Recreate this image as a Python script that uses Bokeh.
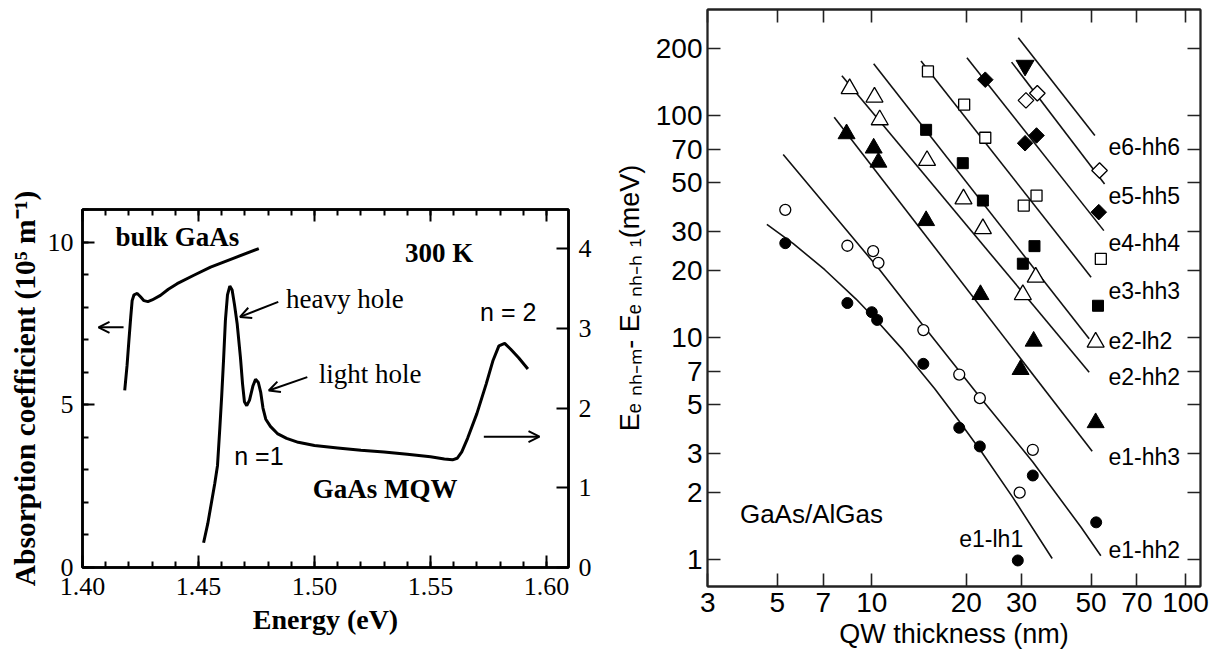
from bokeh.plotting import figure
from bokeh.models import (Range1d, LinearAxis, LogAxis, FixedTicker, SingleIntervalTicker,
                          PrintfTickFormatter, NumeralTickFormatter, Label, Arrow, OpenHead)
from bokeh.layouts import row, column
from bokeh.embed import file_html
from bokeh.resources import INLINE

SERIF = "Liberation Serif"
SANS = "Liberation Sans"

# ---------------- Left panel data ----------------
bulk_energy = [1.4182, 1.4192, 1.4200, 1.4208, 1.4214, 1.4222, 1.4236, 1.4250, 1.4265, 1.4282,
               1.4300, 1.4336, 1.4370, 1.4408, 1.4480, 1.4552, 1.4650, 1.4760]
bulk_alpha = [5.44, 6.20, 6.97, 7.70, 8.20, 8.38, 8.42, 8.32, 8.20, 8.17,
              8.22, 8.36, 8.55, 8.72, 8.98, 9.23, 9.50, 9.80]

mqw_energy = [1.4522, 1.4540, 1.4555, 1.4570, 1.4582, 1.4592, 1.4600, 1.4608, 1.4616, 1.4625,
              1.4635, 1.4645, 1.4655, 1.4667, 1.4681, 1.4690, 1.4698, 1.4708, 1.4720, 1.4735,
              1.4746, 1.4758, 1.4768, 1.4778, 1.4790, 1.4810, 1.4840, 1.4880, 1.4930, 1.5000,
              1.5100, 1.5200, 1.5300, 1.5400, 1.5500, 1.5560, 1.5595, 1.5615, 1.5635, 1.5660,
              1.5700, 1.5740, 1.5770, 1.5795, 1.5820, 1.5845, 1.5880, 1.5920]
mqw_alpha = [0.31, 0.55, 0.80, 1.05, 1.28, 1.75, 2.15, 2.60, 3.10, 3.42,
             3.53, 3.48, 3.30, 3.05, 2.63, 2.30, 2.08, 2.03, 2.10, 2.28,
             2.36, 2.32, 2.20, 2.00, 1.86, 1.77, 1.68, 1.62, 1.57, 1.53,
             1.50, 1.47, 1.45, 1.42, 1.39, 1.36, 1.35, 1.37, 1.45, 1.62,
             1.93, 2.30, 2.60, 2.78, 2.81, 2.74, 2.63, 2.49]

# ---------------- Right panel data ----------------
fc_x = [5.30, 8.36, 10.0, 10.4, 14.6, 19.0, 22.1, 29.2, 32.6, 51.9]
fc_y = [26.6, 14.3, 13.0, 12.0, 7.61, 3.92, 3.23, 0.99, 2.39, 1.47]
oc_x = [5.30, 8.36, 10.1, 10.5, 14.6, 19.0, 22.1, 29.6, 32.6]
oc_y = [37.6, 25.9, 24.5, 21.7, 10.8, 6.81, 5.33, 2.00, 3.12]
ft_x = [8.31, 10.14, 10.5, 14.9, 22.2, 29.8, 32.8, 51.7]
ft_y = [82.7, 71.3, 61.6, 33.6, 15.6, 7.17, 9.62, 4.13]
ot_x = [8.5, 10.2, 10.6, 15.0, 19.6, 22.6, 30.3, 33.3, 51.7]
ot_y = [132, 121, 95.6, 62.7, 42.1, 30.9, 15.6, 18.7, 9.52]
fs_x = [14.9, 19.5, 22.6, 30.3, 33.0, 52.6]
fs_y = [86.2, 61.0, 41.4, 21.5, 25.8, 13.9]
os_x = [15.1, 19.7, 23.0, 30.5, 33.5, 53.7]
os_y = [158, 112, 79.4, 39.3, 43.6, 22.6]
fd_x = [23.0, 30.8, 33.5, 52.9]
fd_y = [145, 75.0, 81.3, 36.7]
od_x = [31.0, 33.7, 53.2]
od_y = [117, 126, 56.5]
fi_x = [30.8]
fi_y = [168]

# fitted curves (thickness nm, energy meV)
curve_e1lh1_x = [4.63, 5.62, 7.08, 8.91, 10.38, 12.59, 15.85, 18.97, 22.39, 28.18, 37.58]
curve_e1lh1_y = [32.3, 26.5, 20.2, 14.9, 11.9, 8.77, 5.89, 4.21, 3.05, 1.90, 1.01]
curve_e1hh2_x = [5.22, 10.5, 14.6, 22.1, 32.6, 46.4, 53.7]
curve_e1hh2_y = [66.7, 20.5, 11.3, 5.4, 2.75, 1.40, 1.04]
curve_e1hh3_x = [7.59, 50.4]
curve_e1hh3_y = [98.3, 3.07]
curve_e2hh2_x = [8.03, 49.3]
curve_e2hh2_y = [151, 6.98]
curve_e2lh2_x = [10.14, 49.3]
curve_e2lh2_y = [171, 9.86]
curve_e3hh3_x = [14.35, 50.0]
curve_e3hh3_y = [176, 18.7]
curve_e4hh4_x = [20.1, 54.9]
curve_e4hh4_y = [182, 30.3]
curve_e5hh5_x = [27.9, 55.2]
curve_e5hh5_y = [174, 49.2]
curve_e6hh6_x = [29.3, 51.4]
curve_e6hh6_y = [224, 81.3]

x_ticks_r = [3, 5, 7, 10, 20, 30, 50, 70, 100]
y_ticks_r = [1, 2, 3, 5, 7, 10, 20, 30, 50, 70, 100, 200]

trans_labels = ["e6-hh6", "e5-hh5", "e4-hh4", "e3-hh3", "e2-lh2", "e2-hh2", "e1-hh3", "e1-hh2"]
trans_label_y = [72.0, 43.6, 26.6, 16.2, 9.62, 6.63, 2.89, 1.098]
trans_label_x = 56.8

# ================= Left figure =================
X1 = Range1d(1.40, 1.6095)
Y1 = Range1d(0, 11.0)
p1 = figure(frame_width=486, frame_height=358, x_range=X1, y_range=Y1,
            output_backend="svg", toolbar_location=None,
            min_border_left=82, min_border_right=32, min_border_top=209, min_border_bottom=80)
p1.extra_y_ranges = {"mqw": Range1d(0, 4.49)}
p1.grid.visible = False
p1.outline_line_color = "black"
p1.outline_line_width = 2.5
p1.background_fill_color = "white"
p1.border_fill_color = "white"

xtick = SingleIntervalTicker(interval=0.05, num_minor_ticks=5)


def style_serif_axis(ax):
    ax.major_tick_out = 0
    ax.minor_tick_out = 0
    ax.major_tick_in = 12
    ax.minor_tick_in = 6
    ax.major_tick_line_width = 2
    ax.minor_tick_line_width = 2
    ax.axis_line_width = 2.5
    ax.axis_line_color = "black"
    ax.major_tick_line_color = "black"
    ax.minor_tick_line_color = "black"
    ax.major_label_text_font = SERIF
    ax.major_label_text_font_size = "26px"
    ax.major_label_text_color = "black"
    ax.axis_label_text_font = SERIF
    ax.axis_label_text_font_style = "bold"
    ax.axis_label_text_font_size = "29.5px"
    ax.axis_label_text_color = "black"


def hide_labels(ax):
    ax.major_label_text_color = None
    ax.major_label_text_font_size = "1px"
    ax.major_label_standoff = 0


bx = p1.xaxis[0]
bx.ticker = xtick
bx.formatter = PrintfTickFormatter(format="%.2f")
style_serif_axis(bx)
bx.major_label_standoff = 10
bx.axis_label = "Energy (eV)"
bx.axis_label_standoff = 6
bx.axis_label_text_font_size = "28px"

ly = p1.yaxis[0]
ly.ticker = SingleIntervalTicker(interval=5, num_minor_ticks=5)
style_serif_axis(ly)
ly.major_label_standoff = 9
ly.axis_label = "Absorption coefficient (10\u2075 m\u207b\u00b9)"
ly.axis_label_standoff = 4

top1 = LinearAxis(ticker=xtick)
style_serif_axis(top1)
hide_labels(top1)
p1.add_layout(top1, "above")

ry = LinearAxis(y_range_name="mqw", ticker=SingleIntervalTicker(interval=1, num_minor_ticks=0))
style_serif_axis(ry)
ry.minor_tick_in = 0
ry.major_label_standoff = 10
p1.add_layout(ry, "right")

p1.line(bulk_energy, bulk_alpha, line_color="black", line_width=3)
p1.line(mqw_energy, mqw_alpha, y_range_name="mqw", line_color="black", line_width=3)

label_specs = [
    ("bulk GaAs", 1.4142, 10.15, SERIF, "bold"),
    ("300 K", 1.5390, 9.65, SERIF, "bold"),
    ("heavy hole", 1.4877, 8.26, SERIF, "normal"),
    ("light hole", 1.5018, 5.95, SERIF, "normal"),
    ("n = 2", 1.5714, 7.85, SANS, "normal"),
    ("n =1", 1.4654, 3.44, SANS, "normal"),
    ("GaAs MQW", 1.4993, 2.41, SERIF, "bold"),
]
for txt, lx, lyv, fnt, sty in label_specs:
    p1.add_layout(Label(x=lx, y=lyv, text=txt, text_font=fnt, text_font_style=sty,
                        text_font_size="27px" if fnt == SERIF else "25px",
                        text_baseline="middle", text_align="left", text_color="black"))

arrow_specs = [
    (1.4844, 8.16, 1.4679, 7.70),
    (1.4969, 5.85, 1.4803, 5.44),
    (1.4177, 7.38, 1.4069, 7.38),
    (1.5730, 4.02, 1.5970, 4.02),
]
for xs, ys, xe, ye in arrow_specs:
    p1.add_layout(Arrow(end=OpenHead(size=11, line_width=2, line_color="black"),
                        x_start=xs, y_start=ys, x_end=xe, y_end=ye,
                        line_width=2, line_color="black"))

# ================= Right figure =================
X2 = Range1d(2.995, 111.6)
Y2 = Range1d(0.7557, 300.3)
p2 = figure(frame_width=493, frame_height=577,
            x_axis_type="log", y_axis_type="log", x_range=X2, y_range=Y2,
            output_backend="svg", toolbar_location=None,
            min_border_left=107, min_border_right=20, min_border_top=9, min_border_bottom=64)
p2.grid.visible = False
p2.outline_line_color = "#222222"
p2.outline_line_width = 1.8
p2.background_fill_color = "white"
p2.border_fill_color = "white"

xt2 = FixedTicker(ticks=x_ticks_r, minor_ticks=[])
yt2 = FixedTicker(ticks=y_ticks_r, minor_ticks=[])


def style_sans_axis(ax):
    ax.major_tick_out = 0
    ax.minor_tick_out = 0
    ax.major_tick_in = 13
    ax.minor_tick_in = 0
    ax.major_tick_line_width = 1.6
    ax.major_tick_line_color = "#222222"
    ax.axis_line_width = 1.8
    ax.axis_line_color = "#222222"
    ax.major_label_text_font = SANS
    ax.major_label_text_font_size = "28px"
    ax.major_label_text_color = "black"
    ax.axis_label_text_font = SANS
    ax.axis_label_text_font_style = "normal"
    ax.axis_label_text_font_size = "27px"
    ax.axis_label_text_color = "black"


bx2 = p2.xaxis[0]
bx2.ticker = xt2
bx2.formatter = NumeralTickFormatter(format="0")
style_sans_axis(bx2)
bx2.major_label_standoff = 6
bx2.axis_label = "QW thickness (nm)"
bx2.axis_label_standoff = 4

ly2 = p2.yaxis[0]
ly2.ticker = yt2
ly2.formatter = NumeralTickFormatter(format="0")
style_sans_axis(ly2)
ly2.major_label_standoff = 5
ly2.axis_label = "E\u2091 \u2099\u2095\u208b\u2098- E\u2091 \u2099\u2095\u208b\u2095 \u2081(meV)"
ly2.axis_label_standoff = 8

top2 = LogAxis(ticker=xt2)
style_sans_axis(top2)
hide_labels(top2)
p2.add_layout(top2, "above")

right2 = LogAxis(ticker=yt2)
style_sans_axis(right2)
hide_labels(right2)
p2.add_layout(right2, "right")

curves = [
    (curve_e1lh1_x, curve_e1lh1_y), (curve_e1hh2_x, curve_e1hh2_y), (curve_e1hh3_x, curve_e1hh3_y),
    (curve_e2hh2_x, curve_e2hh2_y), (curve_e2lh2_x, curve_e2lh2_y), (curve_e3hh3_x, curve_e3hh3_y),
    (curve_e4hh4_x, curve_e4hh4_y), (curve_e5hh5_x, curve_e5hh5_y), (curve_e6hh6_x, curve_e6hh6_y),
]
for cx, cy in curves:
    p2.line(cx, cy, line_color="#111111", line_width=1.6)

p2.scatter(fc_x, fc_y, marker="circle", size=11, fill_color="black", line_color="black")
p2.scatter(oc_x, oc_y, marker="circle", size=11, fill_color="white", line_color="black", line_width=1.3)
p2.scatter(ft_x, ft_y, marker="triangle", size=17, fill_color="black", line_color="black")
p2.scatter(ot_x, ot_y, marker="triangle", size=17, fill_color="white", line_color="black", line_width=1.3)
p2.scatter(fs_x, fs_y, marker="square", size=11, fill_color="black", line_color="black")
p2.scatter(os_x, os_y, marker="square", size=11, fill_color="white", line_color="black", line_width=1.3)
p2.scatter(fd_x, fd_y, marker="square", angle=0.7854, size=11, fill_color="black", line_color="black")
p2.scatter(od_x, od_y, marker="square", angle=0.7854, size=11, fill_color="white", line_color="black", line_width=1.3)
p2.scatter(fi_x, fi_y, marker="inverted_triangle", size=18, fill_color="black", line_color="black")

for txt, yv in zip(trans_labels, trans_label_y):
    p2.add_layout(Label(x=trans_label_x, y=yv, text=txt, text_font=SANS, text_font_size="23px",
                        text_baseline="middle", text_align="left", text_color="black"))
p2.add_layout(Label(x=19.0, y=1.24, text="e1-lh1", text_font=SANS, text_font_size="23px",
                    text_baseline="middle", text_align="left", text_color="black"))
p2.add_layout(Label(x=3.80, y=1.61, text="GaAs/AlGas", text_font=SANS, text_font_size="26px",
                    text_baseline="middle", text_align="left", text_color="black"))

layout = row(column(p1), column(p2))
open("out.html", "w").write(file_html(layout, INLINE))
